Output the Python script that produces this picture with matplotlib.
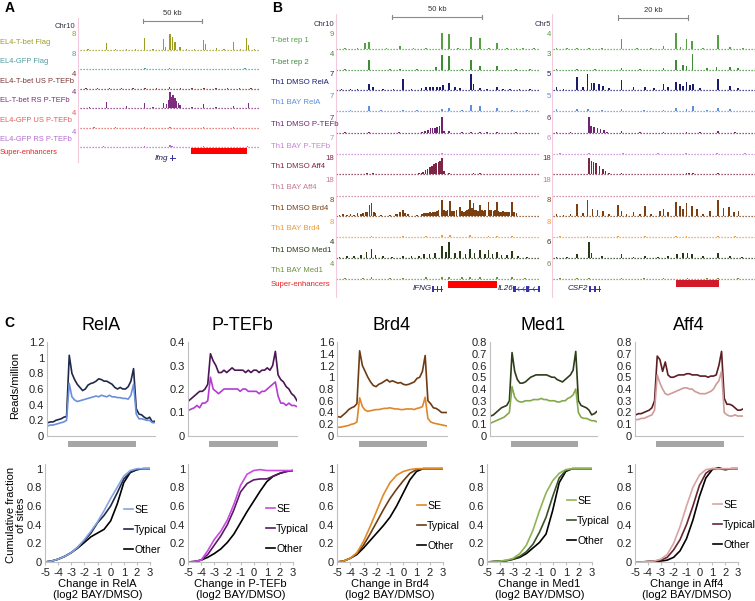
import numpy as np
import matplotlib
matplotlib.use('Agg')
import matplotlib.pyplot as plt
from matplotlib.lines import Line2D
from matplotlib.ticker import MultipleLocator, FuncFormatter

plt.rcParams['font.family'] = ['Liberation Sans', 'DejaVu Sans']
plt.rcParams['axes.unicode_minus'] = False

W, H = 755, 601
fig = plt.figure(figsize=(W / 100, H / 100), dpi=100)

# ---------------------------------------------------------------- data: panel A
A_labels = ['EL4-T-bet Flag', 'EL4-GFP Flag', 'EL4-T-bet US P-TEFb',
            'EL-T-bet RS P-TEFb', 'EL4-GFP US P-TEFb', 'EL4-GFP RS P-TEFb']
A_scales = [8, 8, 4, 4, 4, 4]
A_colors = ['#9c9c1e', '#4f9a9e', '#7a3434', '#7e2c80', '#e45a5a', '#b46ad2']
A_peak_pos = [
    [7, 14, 22.6, 30, 39.5, 47, 54.5, 62, 70.6, 72.5, 76.2, 78.2, 80.5, 84.7, 90.4, 97,
     104.5, 106.5, 115.8, 122, 129.9, 136, 141.2, 142.6, 148],
    [10, 30, 55, 76, 95, 120, 140],
    [5, 15, 25, 35, 45, 55, 65, 76, 85, 95, 105, 115, 125, 135, 145],
    [8, 22.6, 39.5, 54.5, 62, 70.6, 73.4, 75, 76.2, 77.6, 79, 80.5, 81.9, 83.3, 84.7, 95,
     104.5, 115, 129.9, 142.6],
    [12, 30, 54.5, 76.2, 104.5, 130],
    [20, 54.5, 76.2, 78, 104.5, 142],
]
A_peak_h = [
    [0.4, 0.2, 3.5, 0.3, 0.6, 0.3, 5.9, 0.3, 5.3, 1.5, 8.0, 6.7, 4.0, 1.5, 0.5, 0.3,
     4.8, 3.2, 1.0, 0.4, 4.2, 0.5, 5.9, 2.5, 0.3],
    [0.2, 0.2, 0.3, 0.3, 0.2, 0.2, 0.3],
    [0.3, 0.25, 0.3, 0.2, 0.3, 0.25, 0.3, 0.4, 0.3, 0.25, 0.3, 0.2, 0.3, 0.25, 0.3],
    [0.2, 1.4, 0.5, 1.2, 0.3, 1.2, 1.0, 2.0, 4.0, 2.8, 3.2, 2.4, 1.8, 1.2, 0.8, 0.3,
     1.0, 0.3, 0.6, 1.2],
    [0.2, 0.2, 0.25, 0.3, 0.3, 0.2],
    [0.2, 0.25, 0.4, 0.3, 0.3, 0.2],
]
A_span_kb = 152.5
A_scalebar_kb = (53.4, 103.4)
A_se_kb = (94.0, 141.4)
A_gene_kb = (76.2, 80.5)

# ---------------------------------------------------------------- data: panel B
B_labels = ['T-bet rep 1', 'T-bet rep 2', 'Th1 DMSO RelA', 'Th1 BAY RelA',
            'Th1 DMSO P-TEFb', 'Th1 BAY P-TEFb', 'Th1 DMSO Aff4', 'Th1 BAY Aff4',
            'Th1 DMSO Brd4', 'Th1 BAY Brd4', 'Th1 DMSO Med1', 'Th1 BAY Med1']
B_scale_chr10 = [9, 4, 7, 7, 7, 7, 18, 18, 8, 8, 4, 4]
B_scale_chr5 = [4, 3, 5, 5, 6, 6, 18, 18, 8, 8, 6, 6]
B_colors = ['#55a043', '#3f8c36', '#1c1c6e', '#5f8fd8', '#6e2470', '#c583d6',
            '#7e2444', '#c77797', '#7a4012', '#ec9a3a', '#263a16', '#6f8f3c']

chr10_pos = [
    [5, 12, 16.1, 18.5, 28, 35.6, 43, 50, 58.8, 63, 68, 75.1, 80.1, 85, 89.3, 95, 100.4, 104, 110],
    [5, 18.5, 30, 35.6, 45, 55.6, 58.8, 63, 70, 75.1, 80.1, 89.3, 100, 108],
    [3, 8, 12, 18.5, 20.5, 26, 32, 37.4, 42, 47.5, 50, 52.2, 54, 56, 57.7, 59.5, 63, 66, 69,
     75.1, 76.4, 80.1, 84, 89.3, 93, 96.7, 102, 108],
    [8, 18.5, 25, 37.4, 45, 58.8, 63, 70, 75.1, 80.1, 89.3, 98, 106],
    [5, 18.5, 35, 48, 49.5, 51.3, 52.5, 53.7, 55, 56.2, 57.5, 58.8, 60, 63, 70, 75.1, 80.1,
     84, 89.3, 100],
    [5, 20, 35, 50, 58.8, 70, 85, 100, 110],
    [5, 17.3, 20.5, 30, 40, 46, 47.5, 48.5, 49.7, 50.9, 52.1, 53.3, 54.5, 55.7, 56.9, 58,
     58.8, 60, 63, 70, 76.4, 80.1, 90, 100],
    [5, 20, 35, 55, 70, 90, 105],
    [0.3, 2, 4, 6, 8, 10, 12, 14, 15, 16.5, 17.5, 18.7, 19.8, 21, 22, 25, 30, 33, 34, 35.5,
     37.4, 38.5, 40, 45, 48, 49, 50, 51, 52.2, 53, 54, 55, 56, 57, 58.8, 60, 61, 62, 63.4,
     64.5, 65.5, 67, 68.9, 70, 71, 72, 72.8, 73.7, 74.5, 75.5, 76.4, 77.2, 78, 79, 80.1,
     81, 82, 83, 84.7, 85.6, 86.5, 87.5, 88.5, 89.3, 90.2, 91, 92, 93, 94, 95, 96, 97.7,
     99, 100.4],
    [5, 19.8, 30, 37.4, 50, 58.8, 63.4, 74.5, 84.7, 89.3, 97.7, 106],
    [2, 6, 10, 14, 17, 19.8, 22, 26, 31, 37.4, 42, 46, 49, 52, 55, 58.8, 61, 63, 66, 68.9,
     72, 74.5, 77, 80.1, 83, 84.7, 87, 89.3, 92, 95, 97.7, 101, 106],
    [5, 15, 19.8, 30, 37.4, 50, 58.8, 63, 70, 74.5, 80.1, 89.3, 97.7, 105],
]
chr10_h = [
    [0.5, 0.3, 3.6, 4.0, 0.3, 1.8, 0.6, 0.3, 8.8, 8.2, 0.4, 6.5, 6.3, 0.5, 3.5, 0.3, 0.5, 0.4, 0.3],
    [0.2, 2.6, 0.2, 0.3, 0.2, 0.8, 3.8, 3.6, 0.2, 2.6, 1.0, 0.9, 0.2, 0.2],
    [0.5, 0.4, 0.5, 2.6, 1.4, 0.4, 0.5, 4.7, 0.4, 1.0, 1.2, 1.5, 1.2, 1.1, 1.5, 2.2, 3.2, 1.5,
     1.0, 7.0, 2.5, 1.0, 0.5, 1.5, 0.4, 0.5, 0.4, 0.3],
    [0.4, 2.1, 0.3, 0.6, 0.3, 0.8, 1.5, 0.3, 2.8, 2.1, 1.2, 0.3, 0.3],
    [0.3, 0.4, 0.3, 0.6, 1.0, 1.5, 2.0, 2.2, 2.4, 2.6, 3.2, 7.0, 0.8, 0.8, 0.4, 0.6, 0.6,
     0.5, 0.6, 0.3],
    [0.2, 0.2, 0.2, 0.2, 0.3, 0.2, 0.2, 0.2, 0.2],
    [0.3, 1.0, 0.8, 0.3, 0.4, 0.6, 1.2, 2.0, 4.0, 6.0, 8.0, 9.0, 11.0, 12.0, 13.0, 15.0,
     18.0, 3.0, 1.0, 0.5, 1.2, 1.0, 0.4, 0.3],
    [0.4, 0.4, 0.4, 0.5, 0.4, 0.4, 0.4],
    [0.5, 0.6, 0.8, 0.7, 1.0, 0.6, 1.3, 1.0, 1.5, 1.8, 2.0, 5.5, 6.3, 2.2, 1.5, 0.4, 0.4, 1.0,
     1.2, 2.2, 3.0, 1.5, 1.0, 0.5, 1.0, 1.3, 1.5, 1.6, 1.8, 1.7, 2.0, 2.2, 2.5, 3.0, 8.0,
     3.0, 2.5, 2.8, 7.7, 2.6, 2.5, 3.0, 4.7, 2.6, 2.0, 2.4, 3.0, 3.5, 8.0, 4.0, 6.3, 3.0,
     3.0, 2.6, 5.5, 2.8, 2.5, 3.0, 7.0, 3.0, 3.0, 2.6, 3.2, 7.2, 2.5, 2.0, 2.2, 2.5, 2.0,
     2.0, 2.2, 7.0, 2.0, 1.5],
    [0.2, 0.6, 0.2, 0.5, 0.3, 1.2, 0.8, 0.8, 0.6, 0.5, 0.4, 0.2],
    [0.3, 0.4, 0.5, 0.8, 1.5, 2.3, 0.8, 0.4, 0.3, 0.6, 0.4, 0.6, 0.9, 1.0, 1.2, 3.0, 1.4,
     4.0, 1.2, 1.8, 1.0, 2.2, 1.2, 2.0, 1.0, 2.0, 0.9, 1.6, 0.8, 0.8, 1.8, 0.4, 0.3],
    [0.3, 0.3, 0.5, 0.2, 0.3, 0.4, 0.6, 0.6, 0.4, 0.5, 0.5, 0.4, 0.4, 0.3],
]
chr5_pos = [
    [1.0, 4, 6.8, 10.4, 14, 19.6, 24, 28, 31.6, 35.2, 36.5, 38.2, 39.7, 43, 47.3, 50.6, 54.4],
    [1, 6.8, 12, 19.6, 25, 31.6, 35.2, 37.1, 38.2, 39.9, 44, 46.8, 50.6, 53],
    [1.0, 3, 6.8, 8.5, 9.9, 11.0, 11.8, 13.1, 14.2, 16, 19.6, 23, 26.3, 29, 31.6, 33, 35.2,
     36.3, 37.3, 38.2, 39.2, 40.1, 42, 47.3, 50.6, 53],
    [1, 6.8, 10, 14, 19.6, 26, 31.6, 35.2, 38.2, 40, 44, 47.3, 50.6],
    [1, 5, 10.2, 10.9, 11.8, 12.7, 13.6, 14.5, 15.4, 19.6, 25, 31.6, 38.2, 42, 47.3, 52],
    [2, 10.2, 20, 30, 38, 47, 55],
    [1, 5, 10.3, 11.0, 11.6, 12.3, 13.3, 14.2, 15.0, 16.0, 19.6, 25, 31.6, 38.2, 39.0, 40.1,
     47.3, 52],
    [2, 10.3, 20, 30, 39, 47, 55],
    [1.0, 3, 5, 6.8, 8.5, 9.9, 11.3, 12.7, 14.2, 16, 18.7, 19.6, 21, 23, 25, 26.3, 28, 30.7,
     31.6, 33, 35.2, 36.3, 37.3, 38.2, 39.7, 41.2, 43, 45, 47.3, 48.8, 50.3, 51.7, 53.1],
    [2, 9.9, 18.7, 26.3, 35.2, 38.2, 47.3, 52],
    [1, 4, 6.8, 10.3, 11.0, 14, 19.6, 23, 26.3, 30, 33, 35.4, 37.1, 38.5, 39.7, 43, 47.3,
     50.6, 54],
    [2, 6.8, 10.3, 19.6, 26, 31.6, 38.5, 44, 47.3, 53],
]
chr5_h = [
    [0.3, 0.2, 0.3, 0.3, 0.2, 2.6, 0.2, 0.3, 0.8, 4.0, 0.6, 2.5, 2.1, 0.3, 3.6, 0.6, 0.3],
    [0.2, 0.2, 0.2, 0.3, 0.2, 0.4, 1.9, 0.9, 0.8, 3.0, 0.3, 0.6, 0.5, 0.3],
    [0.8, 0.3, 4.0, 0.8, 5.0, 2.2, 2.3, 2.0, 1.2, 0.5, 3.1, 0.8, 0.8, 0.5, 1.8, 0.8, 2.6,
     2.0, 1.2, 2.6, 1.5, 2.0, 0.5, 3.3, 1.2, 0.5],
    [0.5, 0.6, 0.5, 0.3, 0.6, 0.3, 0.4, 1.0, 0.5, 1.5, 0.3, 1.0, 0.5],
    [0.3, 0.2, 6.0, 2.6, 2.3, 2.0, 1.5, 1.0, 0.5, 0.8, 0.3, 0.4, 0.4, 0.3, 0.7, 0.3],
    [0.2, 0.3, 0.2, 0.2, 0.3, 0.2, 0.2],
    [0.3, 0.3, 18, 15, 13, 12, 9, 6, 3, 1.5, 0.8, 0.3, 0.4, 1.5, 1.5, 1.0, 0.8, 0.3],
    [0.4, 0.5, 0.4, 0.4, 0.5, 0.4, 0.4],
    [1.0, 0.6, 1.2, 5.8, 1.5, 8.0, 3.5, 3.0, 2.5, 1.2, 5.3, 2.5, 1.0, 2.0, 0.8, 4.8, 1.0, 2.5,
     3.5, 2.0, 7.2, 5.0, 3.5, 6.6, 5.0, 3.5, 0.8, 2.5, 8.0, 4.0, 4.5, 2.0, 2.5],
    [0.3, 0.5, 0.4, 0.3, 0.5, 0.6, 0.5, 0.3],
    [0.4, 0.3, 1.5, 6.0, 2.0, 0.6, 1.5, 0.5, 0.8, 0.5, 0.6, 1.5, 1.8, 1.9, 1.5, 0.6, 1.8, 0.8, 0.4],
    [0.3, 0.3, 0.4, 0.3, 0.2, 0.3, 0.4, 0.3, 0.4, 0.3],
]
chr10_span_kb = 113.4
chr5_span_kb = 57.8
chr10_scalebar_kb = (31.1, 81.2)
chr5_scalebar_kb = (18.6, 38.6)
chr10_se_kb = (62.3, 89.5)
chr5_se_kb = (35.2, 47.5)
IFNG_kb = (53.9, 58.9)
IL26_kb = (99.5, 113.4)
CSF2_kb = (10.6, 13.4)

# ---------------------------------------------------------------- data: panel C
factors = ['RelA', 'P-TEFb', 'Brd4', 'Med1', 'Aff4']
profile_bins = np.arange(41)
region_bins = (7.6, 32.8)
relA_dmso = [0.17, 0.18, 0.18, 0.20, 0.21, 0.22, 0.24, 0.25,
             1.03, 0.80, 0.72, 0.66, 0.62, 0.58, 0.60, 0.65, 0.67, 0.68, 0.70, 0.73, 0.72, 0.70,
             0.70, 0.68, 0.66, 0.62, 0.60, 0.62, 0.60, 0.60, 0.63, 0.70,
             0.86, 0.35, 0.28, 0.27, 0.24, 0.22, 0.24, 0.18, 0.19]
relA_bay = [0.13, 0.14, 0.14, 0.15, 0.16, 0.17, 0.18, 0.20,
            0.67, 0.50, 0.46, 0.44, 0.45, 0.46, 0.47, 0.48, 0.49, 0.50, 0.51, 0.50, 0.52, 0.51,
            0.50, 0.52, 0.50, 0.50, 0.49, 0.49, 0.48, 0.48, 0.47, 0.52,
            0.66, 0.28, 0.22, 0.22, 0.21, 0.20, 0.20, 0.17, 0.17]
ptefb_dmso = [0.15, 0.16, 0.17, 0.18, 0.19, 0.19, 0.20, 0.22,
              0.35, 0.32, 0.30, 0.27, 0.27, 0.28, 0.27, 0.28, 0.29, 0.28, 0.28, 0.28, 0.28, 0.27,
              0.28, 0.27, 0.28, 0.28, 0.27, 0.28, 0.28, 0.29, 0.28, 0.30,
              0.36, 0.26, 0.24, 0.23, 0.21, 0.20, 0.18, 0.17, 0.15]
ptefb_bay = [0.11, 0.115, 0.12, 0.13, 0.12, 0.14, 0.14, 0.15,
             0.25, 0.20, 0.19, 0.18, 0.19, 0.20, 0.20, 0.20, 0.20, 0.20, 0.20, 0.19, 0.20, 0.20,
             0.19, 0.19, 0.19, 0.19, 0.18, 0.19, 0.19, 0.20, 0.21, 0.22,
             0.23, 0.17, 0.14, 0.14, 0.13, 0.14, 0.13, 0.13, 0.125]
brd4_dmso = [0.33, 0.32, 0.36, 0.40, 0.45, 0.48, 0.50, 0.55,
             1.45, 1.20, 1.10, 1.00, 0.92, 0.86, 0.84, 0.88, 0.90, 0.93, 0.96, 0.92, 0.94, 0.92,
             0.90, 0.91, 0.88, 0.87, 0.88, 0.90, 0.92, 0.98, 1.00, 1.10,
             1.37, 0.60, 0.55, 0.48, 0.47, 0.44, 0.40, 0.40, 0.40]
brd4_bay = [0.15, 0.15, 0.16, 0.17, 0.18, 0.20, 0.21, 0.24,
            0.65, 0.50, 0.44, 0.42, 0.43, 0.44, 0.45, 0.45, 0.46, 0.47, 0.47, 0.48, 0.47, 0.46,
            0.46, 0.45, 0.45, 0.46, 0.46, 0.46, 0.45, 0.47, 0.48, 0.50,
            0.66, 0.30, 0.24, 0.22, 0.21, 0.20, 0.19, 0.18, 0.17]
med1_dmso = [0.17, 0.18, 0.20, 0.22, 0.24, 0.25, 0.26, 0.30,
             0.71, 0.55, 0.48, 0.45, 0.45, 0.46, 0.48, 0.50, 0.51, 0.52, 0.52, 0.52, 0.52, 0.52,
             0.51, 0.50, 0.50, 0.48, 0.47, 0.46, 0.48, 0.50, 0.52, 0.56,
             0.72, 0.30, 0.26, 0.25, 0.24, 0.22, 0.18, 0.19, 0.21]
med1_bay = [0.11, 0.12, 0.13, 0.14, 0.15, 0.16, 0.18, 0.20,
            0.42, 0.33, 0.30, 0.29, 0.29, 0.30, 0.30, 0.30, 0.31, 0.31, 0.31, 0.32, 0.31, 0.31,
            0.30, 0.30, 0.30, 0.29, 0.29, 0.30, 0.30, 0.32, 0.33, 0.35,
            0.40, 0.20, 0.16, 0.15, 0.15, 0.14, 0.13, 0.13, 0.12]
aff4_dmso = [0.18, 0.19, 0.19, 0.20, 0.21, 0.22, 0.24, 0.30,
             0.68, 0.65, 0.55, 0.63, 0.52, 0.50, 0.50, 0.51, 0.52, 0.52, 0.52, 0.53, 0.53, 0.52,
             0.52, 0.52, 0.51, 0.51, 0.51, 0.50, 0.51, 0.51, 0.52, 0.60,
             0.72, 0.32, 0.27, 0.27, 0.26, 0.24, 0.22, 0.22, 0.23]
aff4_bay = [0.14, 0.14, 0.15, 0.15, 0.16, 0.17, 0.18, 0.22,
            0.52, 0.45, 0.40, 0.36, 0.35, 0.36, 0.37, 0.38, 0.39, 0.40, 0.41, 0.41, 0.40, 0.40,
            0.38, 0.37, 0.36, 0.36, 0.36, 0.37, 0.38, 0.40, 0.44, 0.47,
            0.55, 0.20, 0.18, 0.17, 0.17, 0.18, 0.17, 0.17, 0.17]
profile_dmso = [relA_dmso, ptefb_dmso, brd4_dmso, med1_dmso, aff4_dmso]
profile_bay = [relA_bay, ptefb_bay, brd4_bay, med1_bay, aff4_bay]
profile_ymax = [1.2, 0.4, 1.6, 0.8, 0.8]
profile_ystep = [0.2, 0.1, 0.2, 0.1, 0.1]

cdf_x = [-5, -4.5, -4, -3.5, -3, -2.5, -2, -1.5, -1, -0.5, 0, 0.5, 1, 1.5, 2, 2.5, 3]
cdf_se = [
    [0, 0.01, 0.03, 0.06, 0.10, 0.16, 0.24, 0.33, 0.43, 0.55, 0.68, 0.80, 0.92, 0.98, 1.0, 1.0, 1.0],
    [0, 0.005, 0.02, 0.12, 0.24, 0.33, 0.45, 0.62, 0.82, 0.94, 0.98, 0.99, 0.98, 0.98, 0.98, 0.98, 0.98],
    [0, 0.01, 0.04, 0.10, 0.22, 0.38, 0.55, 0.72, 0.85, 0.93, 0.97, 0.99, 1.0, 1.0, 1.0, 1.0, 1.0],
    [0, 0.005, 0.01, 0.02, 0.04, 0.09, 0.18, 0.34, 0.55, 0.74, 0.87, 0.95, 0.99, 1.0, 1.0, 1.0, 1.0],
    [0, 0, 0.005, 0.01, 0.03, 0.08, 0.20, 0.38, 0.60, 0.80, 0.93, 0.99, 1.0, 1.0, 1.0, 1.0, 1.0],
]
cdf_typical = [
    [0, 0.01, 0.03, 0.06, 0.10, 0.16, 0.23, 0.31, 0.42, 0.50, 0.60, 0.74, 0.89, 0.96, 0.99, 1.0, 1.0],
    [0, 0.005, 0.02, 0.08, 0.18, 0.28, 0.40, 0.56, 0.75, 0.84, 0.88, 0.89, 0.89, 0.92, 0.95, 0.97, 0.98],
    [0, 0.01, 0.04, 0.09, 0.18, 0.30, 0.43, 0.56, 0.68, 0.78, 0.87, 0.95, 0.99, 1.0, 1.0, 1.0, 1.0],
    [0, 0.005, 0.01, 0.015, 0.03, 0.06, 0.11, 0.19, 0.32, 0.48, 0.70, 0.90, 0.98, 1.0, 1.0, 1.0, 1.0],
    [0, 0, 0.005, 0.01, 0.02, 0.05, 0.13, 0.24, 0.40, 0.60, 0.82, 0.95, 1.0, 1.0, 0.99, 1.0, 1.0],
]
cdf_other = [
    [0, 0.01, 0.03, 0.06, 0.10, 0.15, 0.21, 0.27, 0.31, 0.35, 0.44, 0.62, 0.85, 0.96, 0.99, 1.0, 1.0],
    [0, 0.005, 0.02, 0.05, 0.09, 0.14, 0.21, 0.30, 0.42, 0.54, 0.65, 0.76, 0.86, 0.92, 0.95, 0.97, 0.98],
    [0, 0.01, 0.04, 0.08, 0.15, 0.23, 0.31, 0.39, 0.48, 0.60, 0.74, 0.88, 0.97, 1.0, 1.0, 1.0, 1.0],
    [0, 0.005, 0.01, 0.015, 0.03, 0.05, 0.09, 0.15, 0.21, 0.30, 0.55, 0.85, 0.97, 1.0, 1.0, 1.0, 1.0],
    [0, 0, 0.005, 0.008, 0.01, 0.02, 0.05, 0.12, 0.25, 0.45, 0.70, 0.90, 0.99, 1.01, 0.99, 1.0, 1.0],
]
legend_labels = ['SE', 'Typical', 'Other']

# colours
dmso_cols = ['#1f2a4a', '#4b1656', '#6e3c14', '#2f3d1a', '#5c1e22']
bay_cols = ['#6b8fd8', '#b43cd2', '#e0862a', '#82a94a', '#cf9a98']
se_cols = ['#86a4e0', '#c84ae0', '#e08a28', '#8fb454', '#d8a4a4']
typ_cols = ['#1f2a4a', '#5a1a66', '#6e3c14', '#3a5226', '#6a2430']


# ---------------------------------------------------------------- helpers
def px_axes(x0, y0, x1, y1):
    return fig.add_axes([x0 / W, 1 - y1 / H, (x1 - x0) / W, (y1 - y0) / H])


def ftext(x, y, s, **kw):
    return fig.text(x / W, 1 - y / H, s, **kw)


def vline_px(x, y0, y1, color='#f2cadb'):
    fig.add_artist(Line2D([x / W, x / W], [1 - y0 / H, 1 - y1 / H], color=color, lw=0.8,
                          transform=fig.transFigure))


def draw_track(x0, x1, base, span, pos, h, scale, color, bar_w):
    ax = px_axes(x0, base - 16, x1, base)
    ax.set_xlim(0, span)
    ax.set_ylim(0, scale)
    ax.axis('off')
    ax.bar(pos, h, width=bar_w, color=color, linewidth=0, align='center')
    ax.axhline(0, color=color, lw=0.9, ls=(0, (1, 1.4)), clip_on=False)
    return ax


def draw_scalebar(x0, x1, y, span, kb, label):
    ax = px_axes(x0, y - 3, x1, y + 3)
    ax.set_xlim(0, span)
    ax.set_ylim(-1, 1)
    ax.axis('off')
    ax.plot([kb[0], kb[1]], [0, 0], color='#8a8a8a', lw=0.8)
    ax.plot([kb[0], kb[0]], [-0.8, 0.8], color='#8a8a8a', lw=0.8)
    ax.plot([kb[1], kb[1]], [-0.8, 0.8], color='#8a8a8a', lw=0.8)
    ax.text((kb[0] + kb[1]) / 2, 1.2, label, ha='center', va='bottom', fontsize=5.5,
            color='#333333')


def draw_se(x0, x1, y0, y1, span, kb, color):
    ax = px_axes(x0, y0, x1, y1)
    ax.set_xlim(0, span)
    ax.set_ylim(0, 1)
    ax.axis('off')
    ax.barh(0.5, kb[1] - kb[0], left=kb[0], height=1, color=color, linewidth=0)


def draw_gene(ax, kb, name, arrows=False):
    ax.plot([kb[0], kb[1]], [0, 0], color='#3535a8', lw=0.7)
    if arrows:
        for k in np.linspace(kb[0] + 1.5, kb[1] - 1, 5):
            ax.plot([k + 0.8, k, k + 0.8], [0.5, 0, -0.5], color='#3535a8', lw=0.5)
    ax.bar([kb[0], kb[0] + (kb[1] - kb[0]) * 0.5, kb[1]], [1.6, 1.6, 1.6], bottom=-0.8,
           width=(kb[1] - kb[0]) * 0.12, color='#3535a8', linewidth=0)
    ax.text(kb[0] - (ax.get_xlim()[1] * 0.008), 0, name, ha='right', va='center',
            fontsize=5.8, style='italic', color='#1c1c4c')


# ---------------------------------------------------------------- panel A
ftext(5, 8, 'A', fontsize=10, fontweight='bold', va='center', ha='left')
A_x0, A_x1 = 80, 260
A_bases = [50, 69, 89, 108, 128, 147]
vline_px(78, 18, 162)
ftext(75, 27, 'Chr10', fontsize=5.5, ha='right', va='center', color='#333344')
draw_scalebar(A_x0, A_x1, 21, A_span_kb, A_scalebar_kb, '50 kb')
for i in range(6):
    draw_track(A_x0, A_x1, A_bases[i], A_span_kb, A_peak_pos[i], A_peak_h[i], A_scales[i],
               A_colors[i], 1.3)
    ftext(0, A_bases[i] - 7.5, A_labels[i], fontsize=5.4, color=A_colors[i], va='center')
    ftext(76, A_bases[i] - 15, str(A_scales[i]), fontsize=5.6, color=A_colors[i],
          ha='right', va='center')
ftext(0, 152, 'Super-enhancers', fontsize=5.4, color='#e52222', va='center')
draw_se(A_x0, A_x1, 148, 154, A_span_kb, A_se_kb, '#ff0000')
gax = px_axes(A_x0, 154, A_x1, 162)
gax.set_xlim(0, A_span_kb)
gax.set_ylim(-1, 1)
gax.axis('off')
draw_gene(gax, A_gene_kb, 'Ifng')

# ---------------------------------------------------------------- panel B
ftext(272, 8, 'B', fontsize=10, fontweight='bold', va='center', ha='left')
B_bases = [49, 70, 90, 111, 133, 154, 174, 196, 216, 237, 258, 279]
c10_x0, c10_x1 = 336, 540
c5_x0, c5_x1 = 553, 755
vline_px(335.5, 14, 297)
vline_px(552, 14, 297)
ftext(334, 25, 'Chr10', fontsize=5.5, ha='right', va='center', color='#333344')
ftext(551, 25, 'Chr5', fontsize=5.5, ha='right', va='center', color='#333344')
draw_scalebar(c10_x0, c10_x1, 17, chr10_span_kb, chr10_scalebar_kb, '50 kb')
draw_scalebar(c5_x0, c5_x1, 17.5, chr5_span_kb, chr5_scalebar_kb, '20 kb')
for i in range(12):
    draw_track(c10_x0, c10_x1, B_bases[i], chr10_span_kb, chr10_pos[i], chr10_h[i],
               B_scale_chr10[i], B_colors[i], 0.95)
    draw_track(c5_x0, c5_x1, B_bases[i], chr5_span_kb, chr5_pos[i], chr5_h[i],
               B_scale_chr5[i], B_colors[i], 0.5)
    ftext(271, B_bases[i] - 8, B_labels[i], fontsize=5.6, color=B_colors[i], va='center')
    ftext(334, B_bases[i] - 15, str(B_scale_chr10[i]), fontsize=5.6, color=B_colors[i],
          ha='right', va='center')
    ftext(551, B_bases[i] - 15, str(B_scale_chr5[i]), fontsize=5.6, color=B_colors[i],
          ha='right', va='center')
ftext(271, 284, 'Super-enhancers', fontsize=5.6, color='#e52222', va='center')
draw_se(c10_x0, c10_x1, 280.5, 287.5, chr10_span_kb, chr10_se_kb, '#ff0000')
draw_se(c5_x0, c5_x1, 279.5, 287, chr5_span_kb, chr5_se_kb, '#d11a2a')
g10 = px_axes(c10_x0, 285, c10_x1, 293)
g10.set_xlim(0, chr10_span_kb)
g10.set_ylim(-1, 1)
g10.axis('off')
draw_gene(g10, IFNG_kb, 'IFNG')
draw_gene(g10, IL26_kb, 'IL26', arrows=True)
g5 = px_axes(c5_x0, 285, c5_x1, 293)
g5.set_xlim(0, chr5_span_kb)
g5.set_ylim(-1, 1)
g5.axis('off')
draw_gene(g5, CSF2_kb, 'CSF2')

# ---------------------------------------------------------------- panel C
ftext(4, 323, 'C', fontsize=10, fontweight='bold', va='center', ha='left')
top_x = [(47, 155), (188, 297), (337, 447), (490, 597), (635, 743)]
bot_x = [(45, 150), (188, 293), (337, 443), (487, 592), (635, 738)]
leg_xy = [(124, 505), (266, 504), (417, 501), (567, 496), (713, 500)]
fmt = FuncFormatter(lambda v, p: ('%g' % round(v, 3)))
spine_c = '#bfbfbf'


def style(ax):
    for s in ['top', 'right']:
        ax.spines[s].set_visible(False)
    for s in ['left', 'bottom']:
        ax.spines[s].set_color(spine_c)
        ax.spines[s].set_linewidth(0.8)
    ax.tick_params(labelsize=8, colors='#222222', length=0, pad=2)


for i in range(5):
    x0, x1 = top_x[i]
    ax = px_axes(x0, 342, x1, 436)
    style(ax)
    ax.plot(profile_bins, profile_dmso[i], color=dmso_cols[i], lw=1.2)
    ax.plot(profile_bins, profile_bay[i], color=bay_cols[i], lw=1.2)
    ax.set_xlim(-0.3, 40)
    ax.set_ylim(0, profile_ymax[i])
    ax.yaxis.set_major_locator(MultipleLocator(profile_ystep[i]))
    ax.yaxis.set_major_formatter(fmt)
    ax.set_xticks([])
    ax.bar([(region_bins[0] + region_bins[1]) / 2], [0.064], width=region_bins[1] - region_bins[0],
           bottom=-0.117, color='#a6a6a6', linewidth=0, clip_on=False,
           transform=ax.get_xaxis_transform())
    ftext((x0 + x1) / 2, 326, factors[i], fontsize=13, ha='center', va='center')
    if i == 0:
        ftext(15, 385, 'Reads/million', fontsize=8, rotation=90, ha='center', va='center')

    bx0, bx1 = bot_x[i]
    bx = px_axes(bx0, 464, bx1, 562)
    style(bx)
    bx.tick_params(axis='x', length=2, color=spine_c, pad=2)
    l_o, = bx.plot(cdf_x, cdf_other[i], color='#000000', lw=1.2)
    l_t, = bx.plot(cdf_x, cdf_typical[i], color=typ_cols[i], lw=1.2)
    l_s, = bx.plot(cdf_x, cdf_se[i], color=se_cols[i], lw=1.2)
    bx.set_xlim(-5, 3)
    bx.set_ylim(0, 1.05)
    bx.set_xticks(range(-5, 4))
    bx.set_yticks([0, 0.2, 0.4, 0.6, 0.8, 1.0])
    bx.yaxis.set_major_formatter(fmt)
    bx.set_xlabel('Change in %s\n(log2 BAY/DMSO)' % factors[i], fontsize=8, labelpad=1,
                  linespacing=1.1)
    lx, ly = leg_xy[i]
    bx.legend([l_s, l_t, l_o], legend_labels, loc='upper left',
              bbox_to_anchor=(lx / W, 1 - ly / H), bbox_transform=fig.transFigure,
              frameon=False, fontsize=7.6, handlelength=0.85, handletextpad=0.1,
              labelspacing=0.95, borderpad=0, borderaxespad=0)
    if i == 0:
        ftext(16, 515, 'Cumulative fraction\nof sites', fontsize=8, rotation=90,
              ha='center', va='center', linespacing=1.05)

fig.savefig('out.png', dpi=100)
